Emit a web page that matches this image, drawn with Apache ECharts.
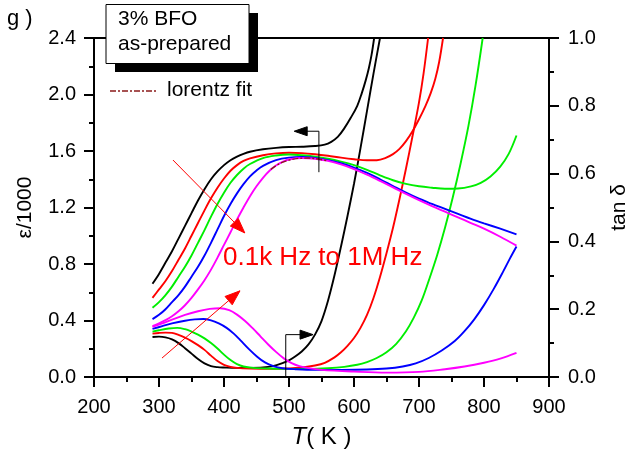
<!DOCTYPE html>
<html>
<head>
<meta charset="utf-8">
<script src="https://cdn.jsdelivr.net/npm/echarts@6/dist/echarts.min.js"></script>
<style>
  html, body { margin: 0; padding: 0; background: #fff; }
  #chart { width: 630px; height: 459px; }
</style>
</head>
<body>
<div id="chart"></div>
<script>
// Dielectric permittivity (ε/1000, left axis) and loss tangent (tan δ, right axis)
// versus temperature for five measuring frequencies, 0.1 kHz ... 1 MHz.
const FONT = "'Liberation Sans', Arial, sans-serif";

const freqColors = ['#000000', '#ff0000', '#00ee00', '#0000ff', '#ff00ff'];

// ε/1000 curves: [T (K), ε/1000]
const epsBlack = [[290,0.66],[300,0.73],[310,0.81],[320,0.89],[330,0.98],[340,1.07],[350,1.16],[360,1.25],[370,1.33],[380,1.40],[390,1.455],[400,1.50],[410,1.535],[420,1.56],[430,1.58],[440,1.595],[460,1.612],[480,1.622],[500,1.628],[520,1.63],[540,1.635],[555,1.645],[565,1.665],[575,1.70],[585,1.76],[595,1.835],[605,1.92],[612,2.01],[618,2.10],[623,2.19],[627,2.28],[631,2.40]];
const epsRed = [[290,0.56],[300,0.62],[310,0.68],[320,0.75],[330,0.83],[340,0.91],[350,1.00],[360,1.09],[370,1.18],[380,1.265],[390,1.34],[400,1.405],[410,1.46],[420,1.50],[430,1.53],[440,1.548],[460,1.57],[480,1.583],[500,1.588],[520,1.585],[540,1.577],[560,1.566],[580,1.553],[600,1.542],[620,1.534],[635,1.535],[648,1.55],[660,1.578],[670,1.615],[680,1.67],[690,1.74],[700,1.825],[710,1.92],[718,2.01],[725,2.11],[731,2.23],[737,2.40]];
const epsGreen = [[290,0.49],[300,0.53],[310,0.58],[320,0.64],[330,0.71],[340,0.78],[350,0.86],[360,0.95],[370,1.04],[380,1.135],[390,1.225],[400,1.305],[410,1.375],[420,1.43],[430,1.475],[440,1.508],[460,1.55],[480,1.568],[500,1.575],[520,1.57],[540,1.56],[560,1.545],[580,1.525],[600,1.50],[620,1.467],[640,1.428],[660,1.393],[680,1.367],[700,1.35],[720,1.34],[740,1.333],[760,1.335],[780,1.35],[795,1.375],[810,1.42],[825,1.49],[838,1.58],[850,1.71]];
const epsBlue = [[290,0.41],[300,0.44],[310,0.48],[320,0.53],[330,0.58],[340,0.64],[350,0.71],[360,0.78],[370,0.86],[380,0.95],[390,1.045],[400,1.14],[410,1.225],[420,1.30],[430,1.365],[440,1.42],[450,1.462],[460,1.495],[480,1.535],[500,1.553],[520,1.557],[540,1.55],[560,1.535],[580,1.513],[600,1.483],[620,1.445],[640,1.40],[660,1.352],[680,1.305],[700,1.262],[720,1.225],[740,1.19],[760,1.155],[780,1.12],[800,1.088],[825,1.05],[850,1.01]];
const epsMagenta = [[290,0.36],[300,0.38],[310,0.403],[320,0.43],[330,0.465],[340,0.508],[350,0.56],[360,0.62],[370,0.685],[380,0.76],[390,0.845],[400,0.935],[410,1.025],[420,1.115],[430,1.20],[440,1.28],[450,1.35],[460,1.41],[470,1.46],[480,1.497],[490,1.523],[500,1.54],[520,1.55],[540,1.545],[560,1.53],[580,1.505],[600,1.472],[620,1.432],[640,1.388],[660,1.342],[680,1.296],[700,1.252],[720,1.21],[740,1.17],[760,1.13],[780,1.09],[800,1.05],[825,0.993],[850,0.93]];

// Lorentz fit around the permittivity maximum (1 MHz)
const lorentzFit = [[472,1.47],[485,1.51],[500,1.535],[515,1.548],[530,1.55],[545,1.543],[560,1.53]];

// tan δ curves: [T (K), tan δ]
const tanBlack = [[290,0.118],[300,0.119],[310,0.117],[320,0.111],[330,0.100],[340,0.085],[350,0.069],[360,0.053],[370,0.040],[380,0.032],[390,0.029],[400,0.028],[420,0.027],[440,0.027],[460,0.028],[475,0.032],[490,0.041],[500,0.049],[510,0.061],[520,0.076],[530,0.096],[540,0.125],[550,0.165],[560,0.225],[570,0.300],[580,0.385],[590,0.475],[600,0.570],[610,0.675],[620,0.785],[630,0.895],[640,1.000]];
const tanRed = [[290,0.128],[300,0.130],[310,0.131],[320,0.130],[330,0.124],[340,0.116],[350,0.106],[360,0.094],[370,0.080],[380,0.063],[390,0.047],[400,0.036],[410,0.030],[420,0.027],[440,0.025],[470,0.024],[500,0.025],[520,0.028],[540,0.034],[555,0.042],[570,0.058],[580,0.073],[590,0.092],[600,0.115],[610,0.145],[620,0.183],[630,0.233],[640,0.295],[650,0.365],[660,0.440],[670,0.525],[680,0.615],[690,0.710],[700,0.810],[707,0.895],[714,1.000]];
const tanGreen = [[290,0.134],[300,0.138],[315,0.143],[328,0.145],[340,0.141],[350,0.134],[360,0.125],[370,0.114],[380,0.100],[390,0.084],[400,0.066],[410,0.050],[420,0.038],[430,0.031],[445,0.027],[470,0.025],[500,0.024],[530,0.024],[560,0.026],[585,0.030],[605,0.036],[620,0.044],[635,0.056],[650,0.073],[665,0.098],[680,0.135],[692,0.175],[704,0.225],[716,0.290],[728,0.360],[740,0.440],[752,0.530],[764,0.630],[776,0.740],[787,0.860],[798,1.000]];
const tanBlue = [[290,0.142],[305,0.150],[320,0.158],[340,0.166],[355,0.170],[368,0.171],[380,0.167],[392,0.158],[404,0.145],[415,0.128],[425,0.109],[438,0.083],[451,0.060],[463,0.043],[476,0.032],[490,0.026],[510,0.023],[540,0.021],[580,0.021],[620,0.022],[650,0.025],[675,0.031],[695,0.040],[715,0.056],[735,0.078],[755,0.106],[770,0.135],[785,0.170],[800,0.212],[815,0.260],[830,0.313],[840,0.350],[850,0.385]];
const tanMagenta = [[290,0.148],[305,0.158],[320,0.169],[340,0.183],[360,0.194],[378,0.201],[394,0.203],[408,0.197],[420,0.184],[432,0.166],[444,0.144],[456,0.120],[468,0.096],[480,0.074],[492,0.055],[504,0.041],[516,0.032],[530,0.026],[550,0.021],[600,0.016],[650,0.013],[700,0.015],[740,0.023],[770,0.031],[800,0.042],[825,0.054],[850,0.071]];

const epsSeries = [epsBlack, epsRed, epsGreen, epsBlue, epsMagenta];
const tanSeries = [tanBlack, tanRed, tanGreen, tanBlue, tanMagenta];

// Axis ranges and tick steps
const xRange = [200, 900, 100];
const epsRange = [0, 2.4, 0.4];
const tanRange = [0, 1.0, 0.2];

const chart = echarts.init(document.getElementById('chart'), null, { renderer: 'canvas' });

function lineSeries(data, color, yAxisIndex) {
  return {
    type: 'line', data: data, yAxisIndex: yAxisIndex,
    showSymbol: false, symbol: 'none', smooth: 0.35,
    lineStyle: { color: color, width: 1.9 }, z: 2, silent: true
  };
}

const series = [];
for (let i = 0; i < 5; i++) series.push(lineSeries(tanSeries[i], freqColors[i], 1));
for (let i = 0; i < 5; i++) series.push(lineSeries(epsSeries[i], freqColors[i], 0));
series.push({
  type: 'line', data: lorentzFit, yAxisIndex: 0, showSymbol: false, symbol: 'none', smooth: 0.35,
  lineStyle: { color: '#8b1a1a', width: 1.4, type: [6, 2, 2, 2] }, z: 3, silent: true
});

const axisCommon = {
  axisLine: { show: true, lineStyle: { color: '#000', width: 2 } },
  axisTick: { show: true, inside: false, length: 10, lineStyle: { color: '#000', width: 2 } },
  minorTick: { show: true, splitNumber: 2, length: 5, lineStyle: { color: '#000', width: 2 } },
  splitLine: { show: false },
  axisLabel: { color: '#000', fontSize: 20, fontFamily: FONT },
  nameTextStyle: { color: '#000', fontSize: 21, fontFamily: FONT }
};

chart.setOption({
  animation: false,
  backgroundColor: '#fff',
  grid: { left: 94, right: 81, top: 38, bottom: 82, outerBoundsMode: 'none', show: true, borderColor: '#000', borderWidth: 2, backgroundColor: 'transparent' },
  xAxis: Object.assign({}, axisCommon, {
    type: 'value', min: xRange[0], max: xRange[1], interval: xRange[2],
    axisLabel: Object.assign({}, axisCommon.axisLabel, { margin: 20 }),
    name: '{i|T}( K )', nameLocation: 'middle', nameGap: 48,
    nameTextStyle: { color: '#000', fontSize: 24, fontFamily: FONT,
      rich: { i: { fontStyle: 'italic', fontSize: 24, fontFamily: FONT, color: '#000' } } }
  }),
  yAxis: [
    Object.assign({}, axisCommon, {
      type: 'value', position: 'left', min: epsRange[0], max: epsRange[1], interval: epsRange[2],
      axisLabel: Object.assign({}, axisCommon.axisLabel, { margin: 18, formatter: v => v.toFixed(1) }),
      name: 'ε/1000', nameLocation: 'middle', nameGap: 58
    }),
    Object.assign({}, axisCommon, {
      type: 'value', position: 'right', min: tanRange[0], max: tanRange[1], interval: tanRange[2],
      axisLabel: Object.assign({}, axisCommon.axisLabel, { margin: 19, formatter: v => v.toFixed(1) }),
      name: 'tan δ', nameLocation: 'middle', nameGap: 60
    })
  ],
  series: series
});

// Annotations placed in data coordinates (T, ε/1000)
function px(T, e) { return chart.convertToPixel({ xAxisIndex: 0, yAxisIndex: 0 }, [T, e]); }

function arrowHead(tip, from, len, half, color) {
  const dx = tip[0] - from[0], dy = tip[1] - from[1];
  const d = Math.sqrt(dx * dx + dy * dy);
  const ux = dx / d, uy = dy / d;
  const bx = tip[0] - ux * len, by = tip[1] - uy * len;
  return {
    type: 'polygon', z: 100, silent: true,
    shape: { points: [tip, [bx - uy * half, by + ux * half], [bx + uy * half, by - ux * half]] },
    style: { fill: color, stroke: color }
  };
}

const g = [];
// Frequency arrows
const r1a = px(321.5, 1.536), r1b = px(432, 1.02);
g.push({ type: 'line', z: 100, silent: true, shape: { x1: r1a[0], y1: r1a[1], x2: r1b[0], y2: r1b[1] }, style: { stroke: '#ff0000', lineWidth: 1 } });
g.push(arrowHead(r1b, r1a, 15, 5.5, '#ff0000'));
const r2a = px(304.6, 0.134), r2b = px(424.6, 0.61);
g.push({ type: 'line', z: 100, silent: true, shape: { x1: r2a[0], y1: r2a[1], x2: r2b[0], y2: r2b[1] }, style: { stroke: '#ff0000', lineWidth: 1 } });
g.push(arrowHead(r2b, r2a, 15, 5.5, '#ff0000'));

// Axis indicator arrows
const b1 = px(546, 1.45), b2 = px(546, 1.74), b3 = px(508, 1.74);
g.push({ type: 'polyline', z: 100, silent: true, shape: { points: [b1, b2, [b3[0] + 10, b3[1]]] }, style: { stroke: '#000', lineWidth: 1, fill: null } });
g.push(arrowHead(b3, b2, 13, 4.5, '#000'));
const c1 = px(495, 0), c2 = px(495, 0.30), c3 = px(537, 0.30);
g.push({ type: 'polyline', z: 100, silent: true, shape: { points: [c1, c2, [c3[0] - 10, c3[1]]] }, style: { stroke: '#000', lineWidth: 1, fill: null } });
g.push(arrowHead(c3, c2, 13, 4.5, '#000'));

// Frequency range label
g.push({ type: 'text', z: 100, silent: true, left: 223, top: 245,
  style: { text: '0.1k Hz to 1M Hz', fill: '#ff0000', font: '26px ' + FONT } });

// Panel letter
g.push({ type: 'text', z: 100, silent: true, left: 7, top: 8,
  style: { text: 'g )', fill: '#000', font: '22px ' + FONT } });

// Sample box with drop shadow
g.push({ type: 'rect', z: 100, silent: true, shape: { x: 115, y: 13, width: 143, height: 59 }, style: { fill: '#000' } });
g.push({ type: 'rect', z: 101, silent: true, shape: { x: 106, y: 4.5, width: 143, height: 59 }, style: { fill: '#fff', stroke: '#000', lineWidth: 1 } });
g.push({ type: 'text', z: 102, silent: true, left: 118, top: 9,
  style: { text: '3% BFO', fill: '#000', font: '21px ' + FONT } });
g.push({ type: 'text', z: 102, silent: true, left: 118, top: 34,
  style: { text: 'as-prepared', fill: '#000', font: '21px ' + FONT } });

// Fit legend
g.push({ type: 'line', z: 100, silent: true, shape: { x1: 110, y1: 91, x2: 158, y2: 91 },
  style: { stroke: '#8b1a1a', lineWidth: 1.4, lineDash: [6, 2, 2, 2] } });
g.push({ type: 'text', z: 100, silent: true, left: 167, top: 80,
  style: { text: 'lorentz fit', fill: '#000', font: '21px ' + FONT } });

chart.setOption({ graphic: g });
</script>
</body>
</html>
